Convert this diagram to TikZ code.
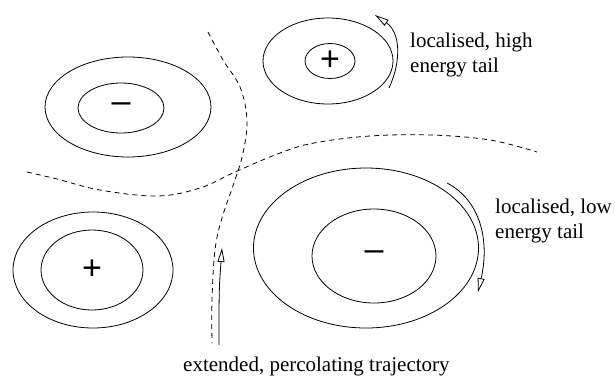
\documentclass[tikz,border=0pt]{standalone}
\usepackage{fontspec}
\newfontfamily\timesish{Liberation Serif}
\newfontfamily\signfont{Liberation Sans}
\usetikzlibrary{arrows.meta,shapes.geometric}

\begin{document}
\begin{tikzpicture}[
    x=1pt, y=-1pt,
    >={Triangle[open,length=14pt,width=7pt]},
    ring/.style={ellipse, draw, inner sep=0pt, line width=0.8pt},
    sign/.style={font=\signfont\fontsize{34}{34}\selectfont},
    note/.style={anchor=base west, inner sep=0pt, font={\timesish\fontsize{21}{25}\selectfont}},
    border/.style={dash pattern=on 5pt off 4pt, line width=0.8pt},
    tail/.style={->, line width=0.8pt}
]
\useasboundingbox (0,0) rectangle (615,376);

% wells
\node[ring, minimum width=166pt, minimum height=100pt] (nwout) at (128,107) {};
\node[ring, sign, minimum width=86pt, minimum height=50pt] (nwin) at (121,108) {–};
\node[ring, minimum width=130pt, minimum height=86pt] (topout) at (328,61) {};
\node[ring, sign, minimum width=50pt, minimum height=35pt] (topin) at (330,61) {+};
\node[ring, minimum width=160pt, minimum height=116pt] (swout) at (93,270) {};
\node[ring, sign, minimum width=102pt, minimum height=80pt] (swin) at (92,270) {+};
\node[ring, minimum width=225pt, minimum height=160pt] (seout) at (366,248) {};
\node[ring, sign, minimum width=124pt, minimum height=94pt] (sein) at (374,256) {–};

% separatrices
\draw[border] plot[smooth, tension=0.6] coordinates {(208,32) (223,60) (240,87) (247,120) (243,153) (235,180) (222,218) (215,250) (212,300) (212,343)};
\draw[border] plot[smooth, tension=0.6] coordinates {(27,172) (57,179) (100,190) (157,196) (200,188) (235,172) (280,153) (314,143) (370,136) (431,135) (490,140) (537,152)};

% trajectories
\coordinate (hiA) at (389,88);
\coordinate (hiB) at (375,15);
\coordinate (loA) at (447,183);
\coordinate (loB) at (478,292);
\coordinate (exA) at (219,345);
\coordinate (exB) at (222,248);
\draw[tail] (hiA) .. controls (402,60) and (400,32) .. (hiB);
\draw[tail] (loA) .. controls (480,200) and (490,240) .. (loB);
\draw[tail] (exA) .. controls (219,290) .. (exB);

% labels
\node[note] (hitext) at (410,47) {localised, high};
\node[note] (hitext2) at ([yshift=-25pt]hitext.base west) {energy tail};
\node[note] (lotext) at (495,213) {localised, low};
\node[note] (lotext2) at ([yshift=-25pt]lotext.base west) {energy tail};
\node[note] (extext) at (183,371) {extended, percolating trajectory};

\end{tikzpicture}
\end{document}
